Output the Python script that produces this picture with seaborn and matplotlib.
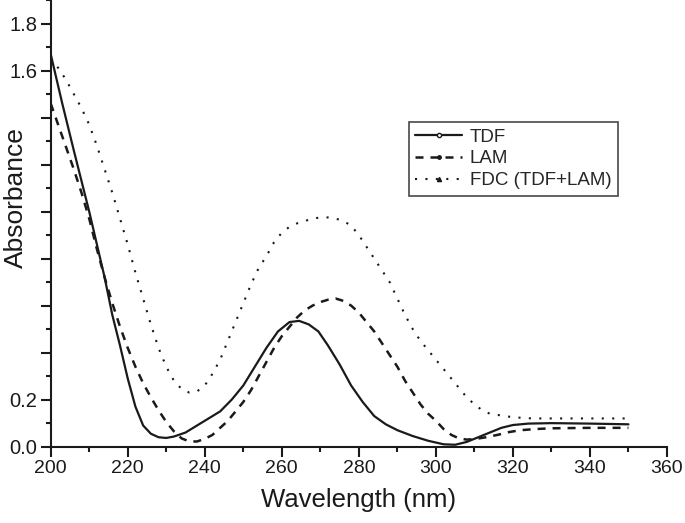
import numpy as np
import pandas as pd
import seaborn as sns
import matplotlib.pyplot as plt
from matplotlib.lines import Line2D
from matplotlib.ticker import MultipleLocator

sns.set_theme(style="ticks")
plt.rcParams["font.family"] = ["Liberation Sans", "DejaVu Sans"]

# TDF (solid)
tdf_x = [200, 203, 206, 208, 210, 212, 214, 216, 218, 220, 222, 224, 226, 228, 230,
         232, 235, 238, 241, 244, 247, 250, 253, 256, 259, 262, 264.5, 267, 269.5,
         272, 275, 278, 281, 284, 287, 290, 294, 298, 302, 305, 308, 311, 314, 317,
         320, 324, 330, 340, 350]
tdf_y = [1.67, 1.46, 1.26, 1.13, 1.00, 0.86, 0.72, 0.56, 0.43, 0.29, 0.17, 0.09, 0.055,
         0.04, 0.037, 0.043, 0.06, 0.09, 0.12, 0.15, 0.20, 0.26, 0.34, 0.42, 0.49, 0.53,
         0.535, 0.52, 0.49, 0.43, 0.35, 0.26, 0.19, 0.13, 0.095, 0.07, 0.045, 0.025,
         0.01, 0.008, 0.02, 0.04, 0.06, 0.08, 0.092, 0.098, 0.10, 0.098, 0.095]

# LAM (dashed)
lam_x = [200, 203, 206, 208, 210, 212, 214, 216, 218, 220, 222, 224, 226, 228, 230,
         232, 234, 236, 238, 240, 242, 244, 246, 248, 250, 252, 254, 256, 258, 260,
         262, 264, 266, 268, 270, 272, 274, 276, 278, 280, 282, 284, 286, 288, 290,
         292, 294, 296, 298, 300, 302, 304, 306, 308, 310, 313, 316, 319, 322, 326,
         330, 340, 350]
lam_y = [1.46, 1.32, 1.18, 1.08, 0.97, 0.84, 0.72, 0.61, 0.51, 0.42, 0.34, 0.27, 0.21,
         0.155, 0.105, 0.065, 0.035, 0.022, 0.022, 0.033, 0.05, 0.08, 0.11, 0.15, 0.19,
         0.24, 0.30, 0.36, 0.42, 0.47, 0.51, 0.55, 0.58, 0.60, 0.615, 0.625, 0.63, 0.62,
         0.60, 0.57, 0.53, 0.49, 0.44, 0.39, 0.34, 0.28, 0.23, 0.18, 0.14, 0.11, 0.075,
         0.05, 0.035, 0.03, 0.032, 0.04, 0.05, 0.062, 0.07, 0.075, 0.078, 0.08, 0.08]

# FDC (TDF+LAM) (dotted)
fdc_x = [200, 202, 204, 206, 208, 210, 212, 214, 216, 218, 220, 222, 224, 226, 228,
         230, 232, 234, 236, 238, 240, 242, 244, 246, 248, 250, 252, 254, 256, 258,
         260, 262, 264, 266, 268, 270, 272, 274, 276, 278, 280, 282, 284, 286, 288,
         290, 292, 294, 296, 298, 300, 302, 304, 306, 308, 310, 312, 314, 316, 318,
         320, 325, 330, 340, 350]
fdc_y = [1.65, 1.61, 1.56, 1.50, 1.44, 1.37, 1.28, 1.18, 1.08, 0.97, 0.86, 0.74, 0.63,
         0.52, 0.42, 0.34, 0.28, 0.245, 0.23, 0.235, 0.26, 0.31, 0.37, 0.45, 0.53, 0.61,
         0.69, 0.76, 0.81, 0.87, 0.91, 0.935, 0.95, 0.96, 0.97, 0.975, 0.975, 0.97, 0.96,
         0.94, 0.90, 0.85, 0.80, 0.75, 0.70, 0.63, 0.56, 0.50, 0.45, 0.41, 0.37, 0.33,
         0.29, 0.25, 0.21, 0.18, 0.155, 0.14, 0.135, 0.13, 0.125, 0.12, 0.12, 0.12, 0.12]

y_labeled = [0.0, 0.2, 1.6, 1.8]
ink = "#1a1a1a"

fig = plt.figure(figsize=(6.85, 5.23), dpi=100)
ax = fig.add_axes([0.074, 0.146, 0.8997, 0.854])

sns.lineplot(x=tdf_x, y=tdf_y, ax=ax, color=ink, lw=1.6, linestyle="-")
sns.lineplot(x=lam_x, y=lam_y, ax=ax, color=ink, lw=1.8, linestyle=(0, (3.2, 2.8)))
sns.lineplot(x=fdc_x, y=fdc_y, ax=ax, color=ink, lw=1.5, linestyle=(0, (1, 4)))

ax.set_xlim(200, 360)
ax.set_ylim(0, 1.9)
ax.xaxis.set_major_locator(MultipleLocator(20))
ax.xaxis.set_minor_locator(MultipleLocator(10))
yt = np.round(np.arange(0, 1.81, 0.2), 1)
ax.set_yticks(yt)
ax.set_yticklabels([f"{v:.1f}" if v in y_labeled else "" for v in yt])
ax.yaxis.set_minor_locator(MultipleLocator(0.1))

for s in ["top", "right"]:
    ax.spines[s].set_visible(False)
for s in ["left", "bottom"]:
    ax.spines[s].set_linewidth(1.5)
    ax.spines[s].set_color(ink)

ax.tick_params(which="major", direction="out", length=7, width=1.5, colors=ink,
               labelsize=14.5, pad=2.5)
ax.tick_params(which="minor", direction="out", length=3.5, width=1.5, colors=ink)
ax.tick_params(axis="x", labelsize=14)

ax.set_xlabel("Wavelength (nm)", fontsize=18.5, color=ink, labelpad=8)
ax.set_ylabel("Absorbance", fontsize=19, color=ink)
ax.yaxis.set_label_coords(-0.037, 0.557)

handles = [
    Line2D([], [], color=ink, lw=1.6, ls="-", marker="o", ms=3,
           mfc="white", mec=ink),
    Line2D([], [], color=ink, lw=1.8, ls=(0, (3.2, 2.8)), marker="o", ms=2.5),
    Line2D([], [], color=ink, lw=1.5, ls=(0, (1, 4)), marker="^", ms=3),
]
leg = ax.legend(handles, ["TDF", "LAM", "FDC (TDF+LAM)"], loc="upper left",
                bbox_to_anchor=(0.581, 0.727), borderaxespad=0, fontsize=13.5,
                frameon=True, fancybox=False, edgecolor=ink,
                handlelength=2.5, handletextpad=0.4, labelspacing=0.25,
                borderpad=0.35)
leg.get_frame().set_linewidth(1.2)

fig.savefig("out.png", dpi=100)
